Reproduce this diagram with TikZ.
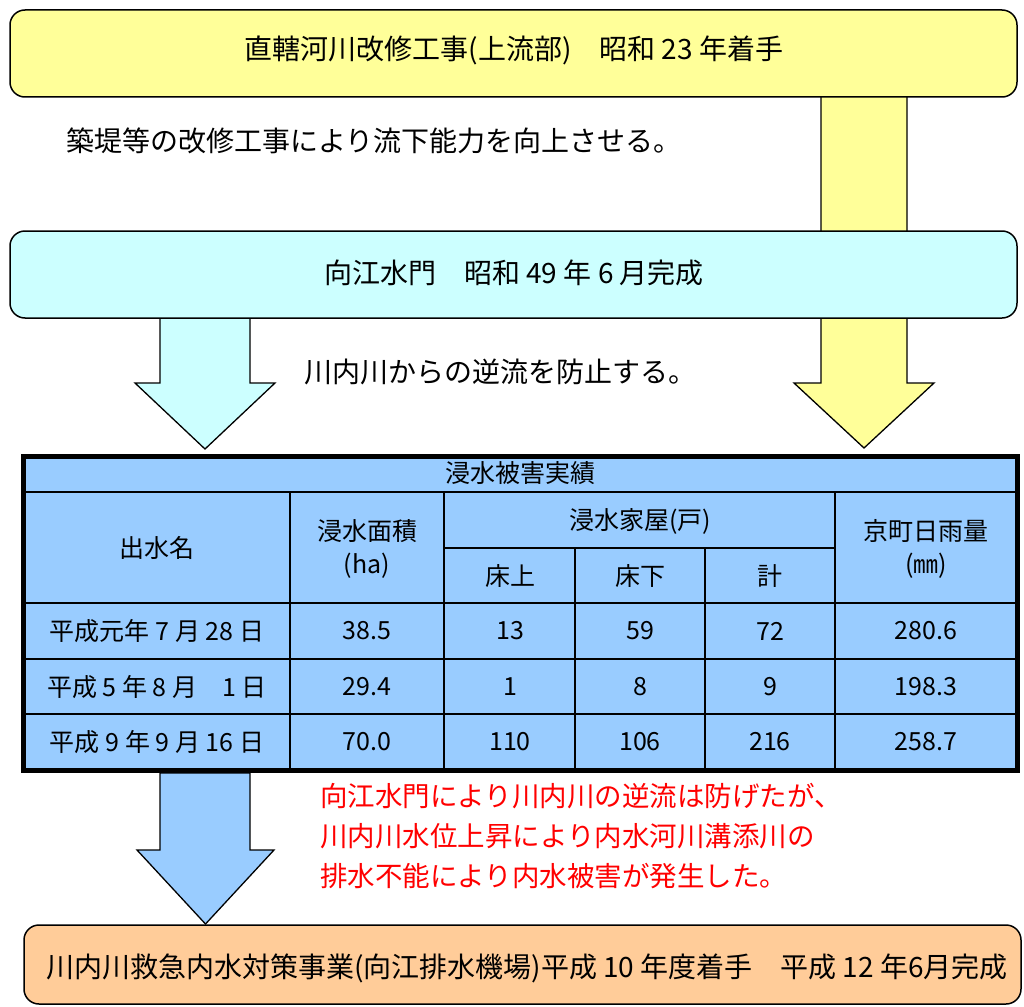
\documentclass[tikz,border=0pt]{standalone}
\usepackage{fontspec}
\setmainfont{Noto Sans CJK JP}
\begin{document}
\begin{tikzpicture}[x=1pt,y=-1pt,
  box/.style={draw=black,line width=1.5pt,rounded corners=15pt},
  blk/.style={draw=black,line width=1.3pt,line join=miter},
  big/.style={font=\fontsize{28}{32}\selectfont,inner sep=0pt},
  tb/.style={font=\fontsize{25}{30}\selectfont,inner sep=0pt},
  grid/.style={line width=1.6pt,draw=black}]
\definecolor{yel}{HTML}{FFFF99}
\definecolor{cyn}{HTML}{CCFFFF}
\definecolor{tbl}{HTML}{99CCFF}
\definecolor{org}{HTML}{FFCC99}
\useasboundingbox (0,0) rectangle (1024,1006);
% yellow block arrow (behind boxes)
\draw[blk,fill=yel] (821,96) -- (821,383) -- (794,383) -- (864,448) -- (934,383) -- (907,383) -- (907,96) -- cycle;
% top box
\draw[box,fill=yel] (10,10) rectangle (1017,97);
\node[big] (t1) at (514,50) {直轄河川改修工事(上流部)　昭和 23 年着手};
\node[big,anchor=west] (t2) at (66,141) {築堤等の改修工事により流下能力を向上させる。};
% cyan arrow
\draw[blk,fill=cyn] (160,317) -- (160,383) -- (135,383) -- (205,449) -- (275,383) -- (250,383) -- (250,317) -- cycle;
% cyan box
\draw[box,fill=cyn] (10,231) rectangle (1017,318);
\node[big] (t3) at (514,273) {向江水門　昭和 49 年 6 月完成};
\node[big,anchor=west] (t4) at (304,372) {川内川からの逆流を防止する。};
% table
\fill[tbl] (23.5,456) rectangle (1017,770);
\draw[grid] (23.5,492) -- (1017,492);
\draw[grid,line width=2pt] (23.5,603) -- (1017,603);
\draw[grid] (23.5,659) -- (1017,659);
\draw[grid] (23.5,714) -- (1017,714);
\draw[grid] (444,548) -- (835,548);
\draw[grid] (290,492) -- (290,770);
\draw[grid] (444,492) -- (444,770);
\draw[grid] (575,548) -- (575,770);
\draw[grid] (705,548) -- (705,770);
\draw[grid] (835,492) -- (835,770);
\draw[line width=5pt,draw=black] (23.5,456) rectangle (1017,770);
\node[tb] (h0) at (520,473) {浸水被害実績};
\node[tb] (h1) at (157,548) {出水名};
\node[tb] (h2a) at (367,531) {浸水面積};
\node[tb] (h2b) at (367,566) {(ha)};
\node[tb] (h3) at (640,521) {浸水家屋(戸)};
\node[tb] (h4) at (510,576) {床上};
\node[tb] (h5) at (640,576) {床下};
\node[tb] (h6) at (770,576) {計};
\node[tb] (h7a) at (926,531) {京町日雨量};
\node[tb] (h7b) at (926,566) {(㎜)};
\foreach \y/\a/\b/\c/\d/\e/\f in {631/平成元年 7 月 28 日/38.5/13/59/72/280.6,
  687/平成 5 年 8 月　1 日/29.4/1/8/9/198.3,
  742/平成 9 年 9 月 16 日/70.0/110/106/216/258.7}{
  \node[tb] at (157,\y) {\a};
  \node[tb] at (367,\y) {\b};
  \node[tb] at (510,\y) {\c};
  \node[tb] at (640,\y) {\d};
  \node[tb] at (770,\y) {\e};
  \node[tb] at (926,\y) {\f};
}
% blue arrow
\draw[blk,fill=tbl] (160,773) -- (160,850) -- (137,850) -- (205.5,924) -- (274,850) -- (250,850) -- (250,773) -- cycle;
\node[big,anchor=north west,align=left,text=red,font=\fontsize{27.5}{40}\selectfont] (red) at (320,783) {向江水門により川内川の逆流は防げたが、\\川内川水位上昇により内水河川溝添川の\\排水不能により内水被害が発生した。};
% bottom box
\draw[box,fill=org] (24,925) rectangle (1021,1004);
\node[big,font=\fontsize{28}{30}\selectfont] (t5) at (527,968) {川内川救急内水対策事業(向江排水機場)平成 10 年度着手　平成 12 年6月完成};
\end{tikzpicture}
\end{document}
